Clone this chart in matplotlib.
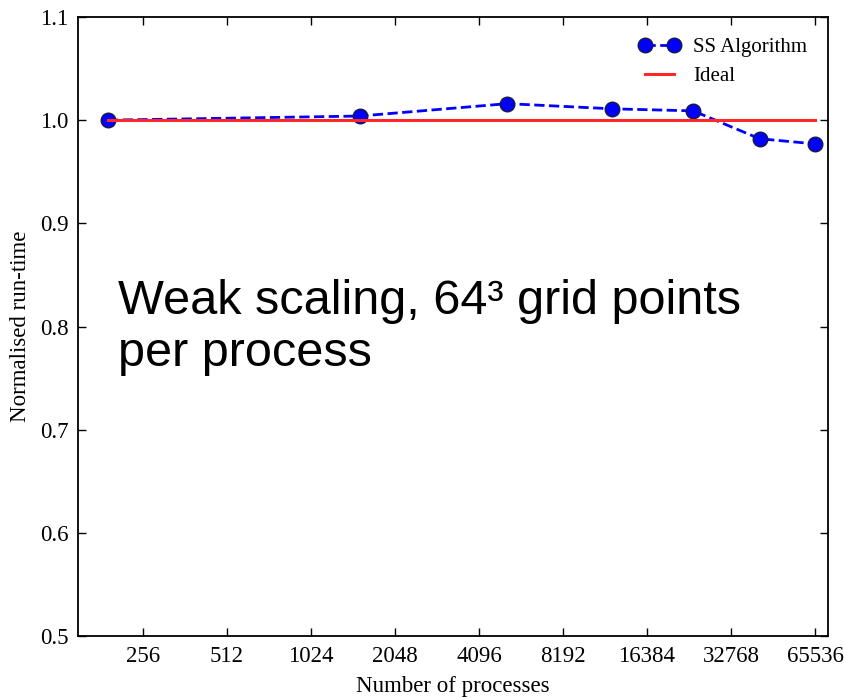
import numpy as np
import matplotlib
matplotlib.use('Agg')
from matplotlib import pyplot as plt
from matplotlib.ticker import FixedLocator, FixedFormatter, NullLocator

# weak scaling measurements, run-time normalised to the smallest run
processes = [192, 1536, 5184, 12288, 24000, 41472, 65536]
runtime = [1.000, 1.004, 1.016, 1.011, 1.009, 0.982, 0.977]
ideal = [1.0, 1.0]
tick_values = [256, 512, 1024, 2048, 4096, 8192, 16384, 32768, 65536]

plt.rcParams['font.family'] = ['Liberation Serif', 'DejaVu Serif']
plt.rcParams['xtick.direction'] = 'in'
plt.rcParams['ytick.direction'] = 'in'

fig = plt.figure(figsize=(8.44, 6.99), dpi=100)
ax = fig.add_axes([0.0924, 0.0901, 0.8886, 0.8856])

ax.plot(processes, runtime, 'o--', color='#0000ff', lw=2, markersize=10.5,
        markeredgecolor='#1a1a40', markeredgewidth=1, label='SS Algorithm')
ax.plot([processes[0], processes[-1]], ideal, '-', color='#ff2828', lw=2.2,
        label='Ideal')

ax.set_xscale('log', base=2)
ax.set_xlim(150, 72900)
ax.set_ylim(0.5, 1.1)
ax.xaxis.set_major_locator(FixedLocator(tick_values))
ax.xaxis.set_major_formatter(FixedFormatter([str(v) for v in tick_values]))
ax.xaxis.set_minor_locator(NullLocator())
ax.set_yticks(np.arange(0.5, 1.11, 0.1))
ax.set_yticklabels(['%.1f' % v for v in np.arange(0.5, 1.11, 0.1)])
ax.tick_params(which='both', top=True, right=True, length=6, width=1,
               labelsize=16.5, pad=7)
for s in ax.spines.values():
    s.set_linewidth(1.3)

ax.set_xlabel('Number of processes', fontsize=16.5, labelpad=7)
ax.set_ylabel('Normalised run-time', fontsize=16.5, labelpad=6)

ax.legend(loc='upper right', numpoints=2, frameon=False, fontsize=15,
          handlelength=2.0, handletextpad=0.6, borderaxespad=0.6,
          labelspacing=0.45)

ax.text(0.054, 0.436, 'Weak scaling, 64\u00b3 grid points\nper process',
        transform=ax.transAxes, family=['Liberation Sans', 'DejaVu Sans'],
        fontsize=35, va='baseline', ha='left', linespacing=1.19)

fig.savefig('out.png', dpi=100)
